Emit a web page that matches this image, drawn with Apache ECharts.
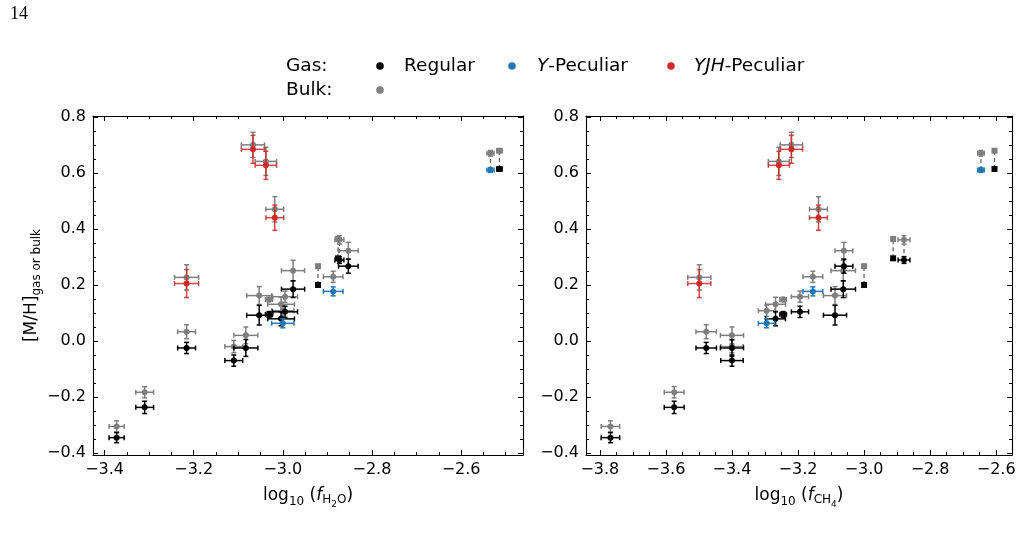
<!DOCTYPE html>
<html>
<head>
<meta charset="utf-8">
<script src="https://cdn.jsdelivr.net/npm/echarts@6/dist/echarts.min.js"></script>
<style>
  body { margin: 0; background: #fff; }
  #chart { width: 1025px; height: 537px; }
</style>
</head>
<body>
<div id="chart"></div>
<script>
// one entry per object
const objType = ['Regular', 'Regular', 'Regular', 'Regular', 'Regular', 'Regular', 'Regular', 'Regular', 'Regular', 'Regular', 'Regular',
  'Regular', 'Regular', 'Regular', 'Regular', 'Y', 'Y', 'Y', 'YJH', 'YJH', 'YJH', 'YJH'];
const isSquare = [0, 0, 0, 0, 0, 0, 0, 0, 0, 0, 0, 0, 1, 1, 1, 0, 0, 0, 0, 0, 0, 0];
const linked = [0, 0, 0, 0, 0, 0, 0, 0, 0, 0, 0, 1, 1, 1, 1, 0, 0, 1, 0, 0, 0, 0];

const logH2O = [-3.373, -3.310, -3.216, -3.110, -3.083, -3.053, -3.031, -3.004, -2.995, -2.977, -2.853,
  -2.873, -2.876, -2.921, -2.514, -3.000, -2.887, -2.534, -3.216, -3.067, -3.038, -3.018];
const errH2O = [0.017, 0.020, 0.020, 0.020, 0.027, 0.028, 0.008, 0.030, 0.028, 0.026, 0.022,
  0.010, 0, 0, 0.006, 0.025, 0.022, 0.008, 0.027, 0.026, 0.024, 0.020];

const logCH4 = [-3.768, -3.575, -3.478, -3.400, -3.400, -3.088, -3.245, -3.268, -3.194, -3.063, -3.061,
  -2.879, -2.912, -3.000, -2.605, -3.295, -3.155, -2.646, -3.499, -3.220, -3.258, -3.138];
const errCH4 = [0.028, 0.030, 0.031, 0.034, 0.035, 0.035, 0.010, 0.030, 0.026, 0.037, 0.027,
  0.018, 0, 0, 0, 0.025, 0.030, 0.010, 0.035, 0.034, 0.032, 0.027];

const gasMH = [-0.345, -0.237, -0.025, -0.070, -0.025, 0.092, 0.095, 0.079, 0.104, 0.185, 0.267,
  0.289, 0.295, 0.200, 0.614, 0.063, 0.177, 0.610, 0.205, 0.684, 0.627, 0.440];
const gasErr = [0.018, 0.022, 0.020, 0.020, 0.030, 0.035, 0.010, 0.025, 0.020, 0.030, 0.025,
  0.012, 0, 0, 0, 0.016, 0.016, 0.008, 0.050, 0.050, 0.050, 0.045];

const bulkMH = [-0.305, -0.183, 0.033, -0.020, 0.020, 0.162, 0.148, 0.131, 0.158, 0.251, 0.322,
  0.361, 0.364, 0.267, 0.679, 0.108, 0.229, 0.670, 0.227, 0.700, 0.641, 0.470];
const bulkErr = [0.020, 0.020, 0.025, 0.022, 0.030, 0.032, 0.008, 0.025, 0.020, 0.037, 0.030,
  0.015, 0, 0, 0, 0.020, 0.020, 0.010, 0.045, 0.045, 0.050, 0.045];

const typeColor = {Regular: '#000000', Y: '#1f77b4', YJH: '#d62728'};
const bulkColor = '#7f7f7f';
const FONT = 'DejaVu Sans';

// panel settings (axis ranges)
const panels = [
  {xs: logH2O, xe: errH2O, min: -3.426, max: -2.461, left: 93, width: 430, sub: ['H', '2', 'O']},
  {xs: logCH4, xe: errCH4, min: -3.842, max: -2.552, left: 586, width: 426, sub: ['CH', '4', '']}
];

function pointData(xs, xe, ys, ye, keep) {
  const out = [];
  for (let i = 0; i < xs.length; i++) {
    if (keep(i)) out.push([xs[i], ys[i], xe[i], ye[i], isSquare[i]]);
  }
  return out;
}

// error bars with caps plus the marker
function errRender(color, barColor) {
  return function (params, api) {
    const x = api.value(0), y = api.value(1), ex = api.value(2), ey = api.value(3), sq = api.value(4);
    const p = api.coord([x, y]);
    const cap = 2.5;
    const ls = {stroke: barColor, lineWidth: 1.5, fill: null};
    const kids = [];
    if (ex > 0) {
      const a = api.coord([x - ex, y]), b = api.coord([x + ex, y]);
      kids.push({type: 'line', shape: {x1: a[0], y1: a[1], x2: b[0], y2: b[1]}, style: ls});
      kids.push({type: 'line', shape: {x1: a[0], y1: a[1] - cap, x2: a[0], y2: a[1] + cap}, style: ls});
      kids.push({type: 'line', shape: {x1: b[0], y1: b[1] - cap, x2: b[0], y2: b[1] + cap}, style: ls});
    }
    if (ey > 0) {
      const a = api.coord([x, y - ey]), b = api.coord([x, y + ey]);
      kids.push({type: 'line', shape: {x1: a[0], y1: a[1], x2: b[0], y2: b[1]}, style: ls});
      kids.push({type: 'line', shape: {x1: a[0] - cap, y1: a[1], x2: a[0] + cap, y2: a[1]}, style: ls});
      kids.push({type: 'line', shape: {x1: b[0] - cap, y1: b[1], x2: b[0] + cap, y2: b[1]}, style: ls});
    }
    if (sq) {
      kids.push({type: 'rect', shape: {x: p[0] - 3, y: p[1] - 3, width: 6, height: 6}, style: {fill: color}});
    } else {
      kids.push({type: 'circle', shape: {cx: p[0], cy: p[1], r: 3}, style: {fill: color}});
    }
    return {type: 'group', children: kids};
  };
}

function dashRender(params, api) {
  const a = api.coord([api.value(0), api.value(1)]);
  const b = api.coord([api.value(0), api.value(2)]);
  return {type: 'line', shape: {x1: a[0], y1: a[1], x2: b[0], y2: b[1]},
    style: {stroke: '#666', lineWidth: 1.3, lineDash: [4, 3]}};
}

function tickLabel(v) {
  if (Math.abs(v * 5 - Math.round(v * 5)) > 1e-6) return '';
  return v.toFixed(1).replace('-', '\u2212');
}

const tickStyle = {color: '#000', width: 1};
function baseAxis(extra) {
  return Object.assign({
    type: 'value',
    axisLine: {onZero: false, lineStyle: {color: '#000', width: 1.1}},
    axisTick: {inside: true, length: 5, lineStyle: tickStyle},
    minorTick: {show: true, splitNumber: 4, length: 3, lineStyle: tickStyle},
    splitLine: {show: false},
    axisLabel: {color: '#000', fontSize: 16, fontFamily: FONT, margin: 7, formatter: tickLabel}
  }, extra);
}

const rich = {
  n: {fontSize: 17, fontFamily: FONT, color: '#000', lineHeight: 26},
  i: {fontSize: 17, fontFamily: FONT, color: '#000', lineHeight: 26, fontStyle: 'italic'},
  s: {fontSize: 12, fontFamily: FONT, color: '#000', verticalAlign: 'bottom', padding: [0, 0, 1, 0]},
  s2: {fontSize: 12, fontFamily: FONT, color: '#000', verticalAlign: 'bottom', padding: [0, 0, 3, 0]},
  s3: {fontSize: 9, fontFamily: FONT, color: '#000', verticalAlign: 'bottom', padding: [0, 0, 0, 0]}
};

const grids = [], xAxes = [], yAxes = [], series = [];
panels.forEach(function (pn, g) {
  grids.push({left: pn.left, top: 116, width: pn.width, height: 339});
  const xName = '{n|log}{s|10}{n| (}{i|f}{s2|' + pn.sub[0] + '}{s3|' + pn.sub[1] + '}' +
    (pn.sub[2] ? '{s2|' + pn.sub[2] + '}' : '') + '{n|)}';
  xAxes.push(baseAxis({gridIndex: g, min: pn.min, max: pn.max, splitNumber: g === 0 ? 5 : 6, position: 'bottom',
    name: xName, nameLocation: 'middle', nameGap: 28, nameTextStyle: {rich: rich}}));
  xAxes.push(baseAxis({gridIndex: g, min: pn.min, max: pn.max, splitNumber: g === 0 ? 5 : 6, position: 'top',
    axisLabel: {show: false}}));
  const yAx = {gridIndex: g, min: -0.407, max: 0.803, splitNumber: 5, position: 'left'};
  if (g === 0) {
    Object.assign(yAx, {name: '{n|[M/H]}{s|gas or bulk}', nameLocation: 'middle', nameGap: 44,
      nameRotate: 90, nameTextStyle: {rich: rich}});
  }
  yAxes.push(baseAxis(yAx));
  yAxes.push(baseAxis({gridIndex: g, min: -0.407, max: 0.803, splitNumber: 5, position: 'right',
    axisLabel: {show: false}}));

  const xi = g * 2, yi = g * 2;
  const dashData = [];
  for (let i = 0; i < pn.xs.length; i++) {
    if (linked[i]) dashData.push([pn.xs[i], gasMH[i], bulkMH[i]]);
  }
  series.push({type: 'custom', xAxisIndex: xi, yAxisIndex: yi, renderItem: dashRender,
    encode: {x: 0, y: [1, 2]}, data: dashData, silent: true});
  series.push({type: 'custom', name: 'Bulk', xAxisIndex: xi, yAxisIndex: yi,
    renderItem: errRender(bulkColor, bulkColor), encode: {x: 0, y: 1},
    data: pointData(pn.xs, pn.xe, bulkMH, bulkErr, function () { return true; })});
  ['Regular', 'Y', 'YJH'].forEach(function (t) {
    const c = typeColor[t];
    series.push({type: 'custom', name: t, xAxisIndex: xi, yAxisIndex: yi,
      renderItem: errRender(c, t === 'YJH' ? 'rgba(214,39,40,0.85)' : c), encode: {x: 0, y: 1},
      data: pointData(pn.xs, pn.xe, gasMH, gasErr, function (i) { return objType[i] === t; })});
  });
});

const legendFont = {fontSize: 18.5, fontFamily: FONT, fill: '#000', verticalAlign: 'middle'};
function lText(x, y, text, rich) {
  return {type: 'text', x: x, y: y, style: Object.assign({text: text, rich: rich}, legendFont)};
}
const legRich = {i: {fontStyle: 'italic', fontSize: 18.5, fontFamily: FONT}};

const chart = echarts.init(document.getElementById('chart'));
chart.setOption({
  animation: false,
  backgroundColor: '#fff',
  grid: grids,
  xAxis: xAxes,
  yAxis: yAxes,
  series: series,
  graphic: [
    {type: 'text', x: 10, y: 5, style: {text: '14', fontSize: 18, fontFamily: 'Liberation Serif', fill: '#000'}},
    lText(286, 66, 'Gas:'),
    {type: 'circle', shape: {cx: 380, cy: 66, r: 3.8}, style: {fill: typeColor.Regular}},
    lText(404, 66, 'Regular'),
    {type: 'circle', shape: {cx: 512, cy: 66, r: 3.8}, style: {fill: typeColor.Y}},
    lText(537, 66, '{i|Y}-Peculiar', legRich),
    {type: 'circle', shape: {cx: 671, cy: 66, r: 3.8}, style: {fill: typeColor.YJH}},
    lText(694, 66, '{i|YJH}-Peculiar', legRich),
    lText(286, 90, 'Bulk:'),
    {type: 'circle', shape: {cx: 380, cy: 90, r: 3.8}, style: {fill: bulkColor}}
  ]
});
</script>
</body>
</html>
